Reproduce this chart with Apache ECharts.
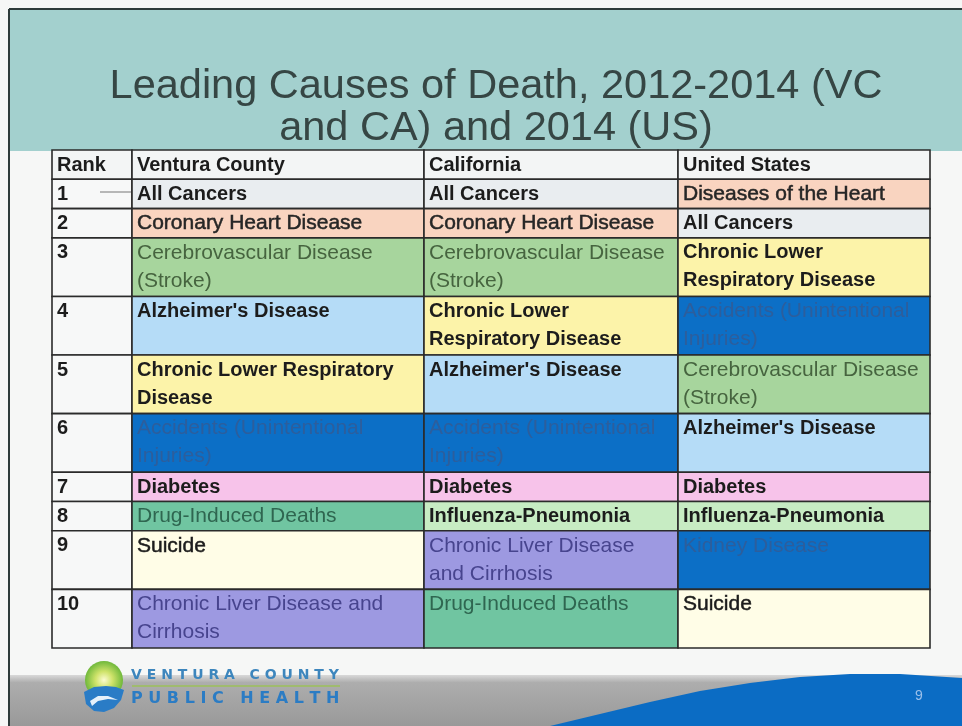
<!DOCTYPE html>
<html>
<head>
<meta charset="utf-8">
<script src="https://cdn.jsdelivr.net/npm/echarts@6/dist/echarts.min.js"></script>
<style>
html, body { margin: 0; padding: 0; background: #f6f7f6; }
#main { width: 962px; height: 726px; }
</style>
</head>
<body>
<div id="main"></div>
<script>
// table content
var headers = ['Rank', 'Ventura County', 'California', 'United States'];
var ranks = ['1', '2', '3', '4', '5', '6', '7', '8', '9', '10'];
var ventura = [
    'All Cancers',
    'Coronary Heart Disease',
    'Cerebrovascular Disease\n(Stroke)',
    "Alzheimer's Disease",
    'Chronic Lower Respiratory\nDisease',
    'Accidents (Unintentional\nInjuries)',
    'Diabetes',
    'Drug-Induced Deaths',
    'Suicide',
    'Chronic Liver Disease and\nCirrhosis'
];
var california = [
    'All Cancers',
    'Coronary Heart Disease',
    'Cerebrovascular Disease\n(Stroke)',
    'Chronic Lower\nRespiratory Disease',
    "Alzheimer's Disease",
    'Accidents (Unintentional\nInjuries)',
    'Diabetes',
    'Influenza-Pneumonia',
    'Chronic Liver Disease\nand Cirrhosis',
    'Drug-Induced Deaths'
];
var unitedStates = [
    'Diseases of the Heart',
    'All Cancers',
    'Chronic Lower\nRespiratory Disease',
    'Accidents (Unintentional\nInjuries)',
    'Cerebrovascular Disease\n(Stroke)',
    "Alzheimer's Disease",
    'Diabetes',
    'Influenza-Pneumonia',
    'Kidney Disease',
    'Suicide'
];

// cell fill, text colour, bold
var causeStyle = {
    'All Cancers': ['#e9edf0', '#1c1c1c', true],
    'Coronary Heart Disease': ['#f9d4c0', '#262626', false],
    'Diseases of the Heart': ['#f9d4c0', '#262626', false],
    'Cerebrovascular Disease (Stroke)': ['#a7d59d', '#46643f', false],
    "Alzheimer's Disease": ['#b5dcf7', '#1c1c1c', true],
    'Chronic Lower Respiratory Disease': ['#fcf3a9', '#1c1c1c', true],
    'Accidents (Unintentional Injuries)': ['#0c6fc6', '#2d5e9c', false],
    'Diabetes': ['#f7c3ea', '#1c1c1c', true],
    'Drug-Induced Deaths': ['#70c5a1', '#2f6650', false],
    'Influenza-Pneumonia': ['#c7ecc3', '#1c1c1c', true],
    'Suicide': ['#fffde7', '#1c1c1c', false],
    'Chronic Liver Disease and Cirrhosis': ['#9d99e1', '#47448e', false],
    'Kidney Disease': ['#0c6fc6', '#2d5e9c', false]
};

var colEdges = [0, 80, 372, 626, 878];

var rowTexts = [headers];
for (var i = 0; i < ranks.length; i++) {
    rowTexts.push([ranks[i], ventura[i], california[i], unitedStates[i]]);
}
var cells = [];
var yTop = 0;
rowTexts.forEach(function (row, r) {
    var lines = 1;
    row.forEach(function (t) { lines = Math.max(lines, t.split('\n').length); });
    row.forEach(function (t, c) {
        var fill = '#f7f8f8', color = '#1c1c1c', bold = true, size = 20;
        if (r === 0) { fill = '#f3f5f5'; }
        else if (c > 0) {
            var s = causeStyle[t.replace(/\n/g, ' ')];
            fill = s[0]; color = s[1]; bold = s[2];
            size = bold ? 20 : 21;
        }
        cells.push({
            value: [colEdges[c], yTop, colEdges[c + 1], yTop + lines],
            text: t, fill: fill, color: color, bold: bold, size: size
        });
    });
    yTop += lines;
});
var totalLines = yTop;

var myChart = echarts.init(document.getElementById('main'));
var option = {
    backgroundColor: '#f6f7f6',
    animation: false,
    title: {
        text: 'Leading Causes of Death, 2012-2014 (VC\nand CA) and 2014 (US)',
        left: 491,
        top: 61,
        textAlign: 'center',
        textStyle: {
            fontFamily: 'Liberation Sans, Arial, sans-serif',
            fontSize: 41.5,
            fontWeight: 'normal',
            lineHeight: 42,
            color: '#364644'
        }
    },
    grid: { left: 52, top: 150, width: 878, height: 498 },
    xAxis: { type: 'value', min: 0, max: colEdges[colEdges.length - 1], show: false },
    yAxis: { type: 'value', min: 0, max: totalLines, inverse: true, show: false },
    graphic: [
        // slide frame and header band
        { type: 'rect', z: -10, shape: { x: 10, y: 10, width: 952, height: 141 }, style: { fill: '#a3d0ce' } },
        { type: 'line', z: -5, shape: { x1: 9, y1: 9, x2: 962, y2: 9 }, style: { stroke: '#2e3b3a', lineWidth: 2 } },
        { type: 'line', z: -5, shape: { x1: 9, y1: 9, x2: 9, y2: 726 }, style: { stroke: '#2e3b3a', lineWidth: 2 } },
        // footer band
        {
            type: 'rect', z: -10, shape: { x: 10, y: 675, width: 952, height: 51 },
            style: {
                fill: new echarts.graphic.LinearGradient(0, 0, 0, 1, [
                    { offset: 0, color: '#d9d9d9' },
                    { offset: 0.15, color: '#adadad' },
                    { offset: 1, color: '#999999' }
                ])
            }
        },
        {
            type: 'polygon', z: -9,
            shape: { points: [[550, 726], [600, 714], [650, 702], [700, 691], [750, 683], [800, 677], [850, 674], [900, 674], [962, 678], [962, 726]] },
            style: { fill: '#0b6cc4' }
        },
        { type: 'text', z: -8, left: 915, top: 689, style: { text: '9', fill: '#9cc0ea', font: '14px Liberation Sans, Arial' } },
        // logo
        {
            type: 'circle', z: -8, shape: { cx: 104, cy: 680, r: 19 },
            style: {
                fill: new echarts.graphic.RadialGradient(0.5, 0.5, 0.5, [
                    { offset: 0, color: '#fbfbd0' },
                    { offset: 0.45, color: '#cfe36a' },
                    { offset: 1, color: '#6fb83a' }
                ])
            }
        },
        {
            type: 'polygon', z: -7,
            shape: { points: [[84, 692], [94, 687], [106, 686], [116, 687], [124, 690], [121, 700], [114, 708], [104, 712], [94, 711], [86, 704]] },
            style: { fill: '#2a7cc6' }
        },
        {
            type: 'polygon', z: -6,
            shape: { points: [[90, 701], [98, 696], [108, 696], [118, 700], [108, 699], [98, 701], [92, 706]] },
            style: { fill: '#e6f1fa' }
        },
        { type: 'text', z: -6, left: 131, top: 668, style: { text: 'V E N T U R A   C O U N T Y', fill: '#3d86bd', font: 'bold 14px DejaVu Sans, sans-serif' } },
        { type: 'line', z: -6, shape: { x1: 132, y1: 686, x2: 340, y2: 686 }, style: { stroke: '#9cc05a', lineWidth: 1.5 } },
        { type: 'text', z: -6, left: 131, top: 691, style: { text: 'P U B L I C   H E A L T H', fill: '#2b7cc4', font: 'bold 16px DejaVu Sans, sans-serif' } },
        // stray connector line in rank 1 cell
        { type: 'line', z: 10, shape: { x1: 100, y1: 192, x2: 131, y2: 192 }, style: { stroke: '#777', lineWidth: 1 } }
    ],
    series: [
        {
            type: 'custom',
            coordinateSystem: 'cartesian2d',
            data: cells,
            renderItem: function (params, api) {
                var c = cells[params.dataIndex];
                var p0 = api.coord([api.value(0), api.value(1)]);
                var p1 = api.coord([api.value(2), api.value(3)]);
                var dark = !c.bold && c.color === '#1c1c1c' || c.color === '#262626';
                return {
                    type: 'group',
                    children: [
                        {
                            type: 'rect',
                            shape: { x: p0[0], y: p0[1], width: p1[0] - p0[0], height: p1[1] - p0[1] },
                            style: { fill: c.fill, stroke: '#2b2b2b', lineWidth: 1.6 }
                        },
                        {
                            type: 'text',
                            x: p0[0] + 5,
                            y: p0[1] + 1,
                            style: {
                                text: c.text,
                                fill: c.color,
                                fontFamily: 'Liberation Sans, Arial, sans-serif',
                                fontSize: c.size,
                                fontWeight: c.bold ? 'bold' : 'normal',
                                lineHeight: 28,
                                verticalAlign: 'top',
                                align: 'left',
                                stroke: dark ? c.color : null,
                                lineWidth: dark ? 0.5 : 0
                            }
                        }
                    ]
                };
            }
        }
    ]
};
myChart.setOption(option);
window.addEventListener('resize', function () {
    myChart.resize();
});
</script>
</body>
</html>
